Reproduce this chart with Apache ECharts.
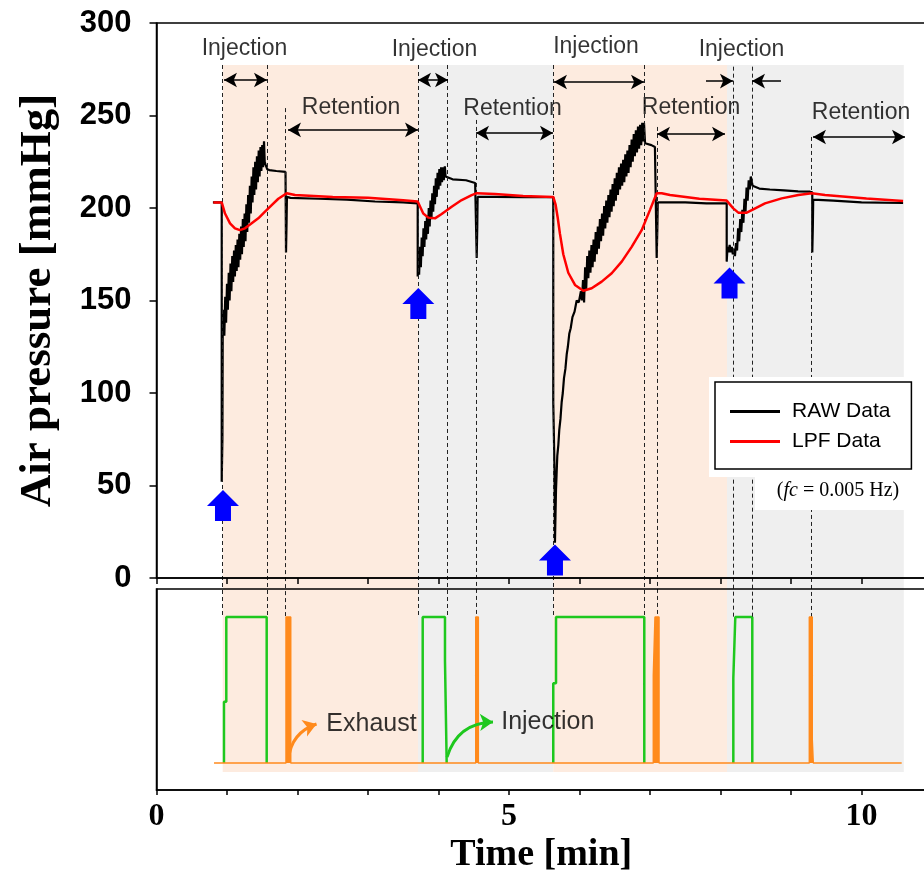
<!DOCTYPE html>
<html><head><meta charset="utf-8">
<script src="https://cdn.jsdelivr.net/npm/echarts/dist/echarts.min.js"></script>
<style>html,body{margin:0;padding:0;background:#fff}#c{width:924px;height:876px}</style>
</head><body><div id="c"></div>
<script>
// ---------------- DATA ----------------
// RAW air pressure [time(min), mmHg]
const rawData = [
[0.80,203],[0.925,203],[0.925,52],[0.935,75],[0.94,140],
[0.95,145],[0.962,131],[0.975,152],[0.987,138],[1.0,159],[1.012,145],[1.025,165],[1.037,150],[1.05,170],[1.062,155],[1.075,174],[1.087,160],[1.10,177],[1.112,163],[1.125,180],[1.137,166],[1.15,183],[1.162,168],[1.175,186],[1.187,172],[1.20,190],[1.212,175],[1.225,194],[1.237,179],[1.25,197],[1.262,182],[1.275,202],[1.287,187],[1.30,207],[1.312,192],[1.325,212],[1.337,197],[1.35,217],[1.362,203],[1.375,222],[1.387,207],[1.40,225],[1.412,210],[1.425,228],[1.437,214],[1.45,231],[1.462,217],[1.475,233],[1.487,220],[1.50,234],[1.512,222],[1.525,236],[1.535,225],[1.55,223],[1.57,221],[1.60,220.5],[1.70,220],[1.83,219.5],[1.837,176],[1.845,192],[1.85,206],
[1.90,205.5],[2.3,205],[2.7,204.5],[3.1,203.5],[3.5,203],[3.705,202.5],
[3.705,163],[3.715,170],[3.725,164],[3.738,179],[3.75,168],[3.762,184],[3.775,174],[3.787,189],[3.80,179],[3.812,193],[3.825,183],[3.837,196],[3.85,186],[3.862,200],[3.875,190],[3.887,204],[3.90,194],[3.912,208],[3.925,198],[3.937,212],[3.95,202],[3.962,216],[3.975,206],[3.987,219],[4.0,210],[4.012,221],[4.025,212],[4.037,222],[4.05,214],[4.062,222],[4.075,215],[4.09,222.5],[4.10,217],[4.125,216],[4.2,215.5],[4.39,215],[4.52,213.5],[4.542,213],[4.542,173],[4.55,190],[4.555,206],
[4.8,206],[5.2,205.8],[5.628,205.8],
[5.628,95],[5.645,60],[5.652,19],[5.66,35],[5.667,48],[5.675,56],[5.685,66],[5.70,72],[5.713,80],[5.73,86],[5.747,95],[5.763,100],[5.78,108],[5.80,113],[5.819,121],[5.835,125],[5.855,132],[5.875,135],[5.90,141],[5.93,144],[5.96,150],[5.99,149],[6.02,155],[6.035,150],
[6.05,161],[6.065,149],[6.08,168],[6.095,156],[6.11,174],[6.125,162],[6.14,177],[6.155,165],[6.17,180],[6.185,168],[6.20,183],[6.215,171],[6.23,187],[6.245,175],[6.26,190],[6.275,178],[6.29,194],[6.305,182],[6.32,197],[6.335,185],[6.35,201],[6.365,189],[6.38,204],[6.395,192],[6.41,207],[6.425,195],[6.44,210],[6.455,198],[6.47,213],[6.485,201],[6.50,216],[6.515,204],[6.53,219],[6.545,207],[6.56,222],[6.575,210],[6.59,224],[6.605,212],[6.62,226],[6.635,214],[6.65,229],[6.665,217],[6.68,231],[6.695,219],[6.71,234],[6.725,222],[6.74,237],[6.755,225],[6.77,240],[6.785,228],[6.80,242],[6.815,230],[6.83,244],[6.845,232],[6.86,245],[6.875,234],[6.89,246],[6.905,236],[6.915,246],[6.93,235],[6.95,234.5],[7.02,234],[7.07,233],[7.095,232],[7.095,173],[7.105,190],[7.11,203],
[7.5,203],[7.8,202.5],[8.088,202.5],
[8.088,171],[8.10,179],[8.115,176],[8.13,180],[8.145,176],[8.16,179],[8.175,175],[8.19,178],[8.205,174],[8.22,181],[8.235,177],[8.25,189],[8.265,182],[8.28,194],[8.295,187],[8.31,199],[8.325,192],[8.34,205],[8.355,198],[8.37,211],[8.385,204],[8.40,215],[8.415,210],[8.43,217],[8.442,218],[8.455,212],[8.47,211],[8.55,210.5],[8.7,210],[8.9,209.5],[9.1,209],[9.27,208.8],[9.302,208.5],[9.302,176],[9.31,190],[9.315,204.5],[9.6,204],[10.0,203],[10.59,202.7]
];
// Low-pass filtered pressure [time(min), mmHg]
const lpfData = [
[0.806,203],[0.925,203],[0.972,197],[1.043,191.7],[1.113,189],[1.184,188],[1.255,189],[1.35,191.7],[1.444,194.4],[1.539,198],[1.634,201.6],[1.728,205],[1.847,208],[1.965,207],[2.5,206],[3.0,205.5],[3.5,204.2],[3.705,203.5],
[3.784,197],[3.855,194.8],[3.95,194.4],[4.045,196.8],[4.187,200.7],[4.329,204.3],[4.471,207],[4.542,208],[4.801,207.6],[5.2,206.5],[5.628,206],
[5.66,202],[5.69,195],[5.723,186],[5.77,175],[5.841,165],[5.936,158.4],[6.054,155.3],[6.173,156.6],[6.315,160.2],[6.457,164.7],[6.599,171],[6.74,179],[6.882,188],[7.0,199],[7.095,208],[7.166,208],[7.284,207],[7.7,205],[8.088,204],
[8.181,199.8],[8.253,197.5],[8.372,197.5],[8.465,199.3],[8.631,202.5],[8.868,205.2],[9.104,207],[9.294,208],[9.482,207],[10.07,205.2],[10.59,203.8]
];
// Injection valve signal (0 = closed, 1 = open), one list per opening
const injectionPulses = [
[[0.957,0],[0.957,0.42],[0.99,0.42],[0.99,1],[1.563,1],[1.563,0]],
[[3.776,0],[3.776,1],[4.092,1],[4.092,0.70],[4.116,0.70],[4.116,0]],
[[5.628,0],[5.628,0.546],[5.667,0.546],[5.667,1],[6.919,1],[6.919,0]],
[[8.182,0],[8.182,0.58],[8.21,0.58],[8.21,1],[8.451,1],[8.451,0]]
];
// Exhaust valve signal
const exhaustSignal = [
[0.816,0],[1.837,0],[1.837,1],[1.904,1],[1.904,0],[4.528,0],[4.528,1],[4.565,1],[4.565,0],
[7.047,0],[7.047,0.6],[7.071,0.6],[7.071,1],[7.128,1],[7.128,0],
[9.260,0],[9.260,1],[9.302,1],[9.302,0.157],[9.316,0.157],[9.316,0],[10.57,0]
];
// Phases [start, end, kind]
const phases = [[0.939,3.709,'a'],[3.709,5.628,'b'],[5.628,8.092,'a'],[8.092,10.60,'b']];
// Event (dashed marker) times and where each marker starts (mmHg scale)
const eventTimes = [0.939,1.567,1.830,3.709,4.121,4.536,5.628,6.915,7.099,8.177,8.447,9.284];
const eventTops  = [277.3,277.3,254,277.3,277.3,247.6,277.3,277.3,243.8,276.4,276.4,238.4];
// Top annotation labels [text, t, mmHg]
const topLabels = [['Injection',1.248,286],['Injection',3.943,285.4],['Injection',6.234,287],['Injection',8.298,285.4],
  ['Retention',2.759,254],['Retention',5.05,253.5],['Retention',7.582,254],['Retention',9.993,251.4]];
// Span arrows [t0, t1, mmHg, heads]
const spanArrows = [[0.957,1.567,269.2,'both'],[1.865,3.709,242.2,'both'],[3.709,4.135,269.2,'both'],[4.532,5.624,240.5,'both'],
  [5.638,6.915,268.1,'both'],[7.099,8.064,240,'both'],[7.794,8.177,268.6,'end'],[8.858,8.447,268.6,'end'],[9.312,10.617,238.4,'both']];
// Blue arrows [t, mmHg]
const blueArrows = [[0.943,39.2],[3.714,148.4],[5.652,9.7],[8.128,159.5]];
// Bottom panel labels [text, t, level]
const bottomLabels = [['Exhaust',3.05,0.267],['Injection',5.55,0.281]];
// Curved arrows [t0, v0, t1, v1, which]
const curvedArrows = [[1.872,0.02,2.27,0.267,'exhaust'],[4.121,0.04,4.773,0.281,'injection']];
const yTickStep = 50, yMax = 300, xMax = 10.915;

// ---------------- STYLE ----------------
const SANS = 'Liberation Sans', SERIF = 'Liberation Serif';
const phaseColor = {a:'#fdebdf', b:'#efefef'};
const GREEN = '#1ec81e', ORANGE = '#ff8a1c';
const SHADE_TOP = 277.3, SHADE_BOT = -104.9, EVENT_BOT = -21.1;

const chart = echarts.init(document.getElementById('c'), null, {renderer:'canvas'});
const axisLineStyle = {color:'#000', width:1.5};

const series = [];
series.push({
  type:'line', xAxisIndex:2, yAxisIndex:2, data:[], z:1, silent:true,
  markArea:{silent:true, data: phases.map(p => [{xAxis:p[0], yAxis:SHADE_TOP, itemStyle:{color:phaseColor[p[2]]}}, {xAxis:p[1], yAxis:SHADE_BOT}])},
  markLine:{silent:true, symbol:'none', label:{show:false}, animation:false,
    lineStyle:{color:'#222', width:1, type:[4,3]},
    data: eventTimes.map((t,i) => [{coord:[t, eventTops[i]]},{coord:[t, EVENT_BOT]}])}
});
series.push({
  name:'RAW Data', type:'line', xAxisIndex:0, yAxisIndex:0, data:rawData, showSymbol:false, symbol:'none', z:4,
  lineStyle:{color:'#000', width:2.2}, itemStyle:{color:'#000'},
  markPoint:{silent:true, symbol:'path://M16,0L32,16L24,16L24,31L8,31L8,16L0,16Z', symbolSize:[32,31],
    itemStyle:{color:'#0000ff'}, label:{show:false}, data: blueArrows.map(a => ({coord:a}))}
});
series.push({
  name:'LPF Data', type:'line', xAxisIndex:0, yAxisIndex:0, data:lpfData, showSymbol:false, symbol:'none', z:5,
  lineStyle:{color:'#ff0000', width:2.5}, itemStyle:{color:'#ff0000'}
});
series.push({
  type:'line', xAxisIndex:0, yAxisIndex:0, data:[], z:6, silent:true,
  markLine:{silent:true, symbol:['arrow','arrow'], symbolSize:[11,13], label:{show:false}, animation:false,
    lineStyle:{color:'#000', width:1.5, type:'solid'},
    data: spanArrows.map(a => [{coord:[a[0],a[2]], symbol: a[3]==='both' ? 'arrow' : 'none'}, {coord:[a[1],a[2]], symbol:'arrow'}])}
});
series.push({
  type:'scatter', xAxisIndex:0, yAxisIndex:0, z:6, silent:true, symbolSize:1,
  itemStyle:{color:'rgba(0,0,0,0)'},
  data: topLabels.map(l => [l[1], l[2], l[0]]),
  label:{show:true, position:'inside', formatter: p => p.data[2], color:'#000', fontSize:23, fontFamily:SANS}
});
injectionPulses.forEach(p => series.push({
  type:'line', xAxisIndex:1, yAxisIndex:1, data:p, showSymbol:false, symbol:'none', z:4, silent:true,
  lineStyle:{color:GREEN, width:2.5}
}));
series.push({
  type:'line', xAxisIndex:1, yAxisIndex:1, data:exhaustSignal, showSymbol:false, symbol:'none', z:5, silent:true,
  lineStyle:{color:ORANGE, width:1.5}, areaStyle:{color:ORANGE, opacity:1, origin:'auto'}
});
curvedArrows.forEach(c => {
  const col = c[4]==='exhaust' ? ORANGE : GREEN;
  const cv = c[4]==='exhaust' ? 0.33 : 0.36;
  series.push({
    type:'lines', coordinateSystem:'cartesian2d', xAxisIndex:1, yAxisIndex:1, z:6, silent:true,
    symbol:['none','arrow'], symbolSize:13,
    lineStyle:{color:col, width:3, opacity:1, curveness:cv}, itemStyle:{color:col},
    data:[{coords:[[c[0],c[1]],[c[2],c[3]]]}]
  });
});
series.push({
  type:'scatter', xAxisIndex:1, yAxisIndex:1, z:6, silent:true, symbolSize:1,
  itemStyle:{color:'rgba(0,0,0,0)'},
  data: bottomLabels.map(l => [l[1], l[2], l[0]]),
  label:{show:true, position:'inside', formatter: p => p.data[2], color:'#000', fontSize:25, fontFamily:SANS}
});

const gridBase = {left:156.5, right:-2, outerBoundsMode:'none', containLabel:false};
const option = {
  animation:false,
  backgroundColor:'#fff',
  grid:[
    Object.assign({top:23, height:555, show:true, borderColor:'#000', borderWidth:1.5, backgroundColor:'transparent', z:7}, gridBase),
    Object.assign({top:589, height:201, show:true, borderColor:'#000', borderWidth:1.5, backgroundColor:'transparent', z:7}, gridBase),
    Object.assign({top:23, height:767, show:false}, gridBase)
  ],
  xAxis:[
    {gridIndex:0, type:'value', min:0, max:xMax, interval:1, z:8,
      axisLine:{show:true, onZero:false, lineStyle:axisLineStyle},
      axisTick:{show:true, inside:false, length:6, lineStyle:axisLineStyle},
      axisLabel:{show:false}, splitLine:{show:false}},
    {gridIndex:1, type:'value', min:0, max:xMax, interval:1, z:8,
      axisLine:{show:true, onZero:false, lineStyle:axisLineStyle},
      axisTick:{show:true, inside:false, length:5, lineStyle:axisLineStyle},
      axisLabel:{show:true, margin:11, color:'#000', fontSize:32, fontWeight:'bold', fontFamily:SERIF, showMaxLabel:false,
        formatter: v => (Math.abs(v % 5) < 1e-9 ? String(v) : '')},
      splitLine:{show:false},
      name:'Time [min]', nameLocation:'middle', nameGap:46,
      nameTextStyle:{color:'#000', fontSize:38, fontWeight:'bold', fontFamily:SERIF}},
    {gridIndex:2, type:'value', min:0, max:xMax, show:false}
  ],
  yAxis:[
    {gridIndex:0, type:'value', min:0, max:yMax, interval:yTickStep, z:8,
      axisLine:{show:true, onZero:false, lineStyle:axisLineStyle},
      axisTick:{show:true, inside:false, length:7, lineStyle:axisLineStyle},
      axisLabel:{show:true, margin:25, color:'#000', fontSize:31, fontWeight:'bold', fontFamily:SANS},
      splitLine:{show:false},
      name:'Air pressure [mmHg]', nameLocation:'middle', nameGap:96,
      nameTextStyle:{color:'#000', fontSize:45, fontWeight:'bold', fontFamily:SERIF}},
    {gridIndex:1, type:'value', min:-0.185, max:1.192, z:8,
      axisLine:{show:true, onZero:false, lineStyle:axisLineStyle},
      axisTick:{show:false}, axisLabel:{show:false}, splitLine:{show:false}},
    {gridIndex:2, type:'value', min:-114.6, max:yMax, show:false}
  ],
  legend:{
    data:['RAW Data','LPF Data'], orient:'vertical', left:715, top:382,
    padding:[19,21,17,15], itemGap:9, itemWidth:50, itemHeight:3, icon:'rect',
    backgroundColor:'#fff', borderColor:'#000', borderWidth:1.5, borderRadius:0,
    selectedMode:false, z:12,
    textStyle:{fontSize:21, fontFamily:SANS, color:'#000', padding:[0,0,0,7]}
  },
  graphic:[
    {type:'rect', silent:true, z:9, shape:{x:709, y:377, width:202, height:100}, style:{fill:'#fff'}},
    {type:'rect', silent:true, z:9, shape:{x:755, y:477, width:156, height:33}, style:{fill:'#fff'}},
    {type:'text', silent:true, z:10, x:838, y:491, style:{
      text:'{a|(}{b|fc}{a| = 0.005 Hz)}', align:'center', verticalAlign:'middle',
      rich:{a:{fontFamily:SERIF, fontSize:20, fill:'#000'}, b:{fontFamily:SERIF, fontSize:20, fontStyle:'italic', fill:'#000'}}}}
  ],
  series: series
};
chart.setOption(option);
</script></body></html>
